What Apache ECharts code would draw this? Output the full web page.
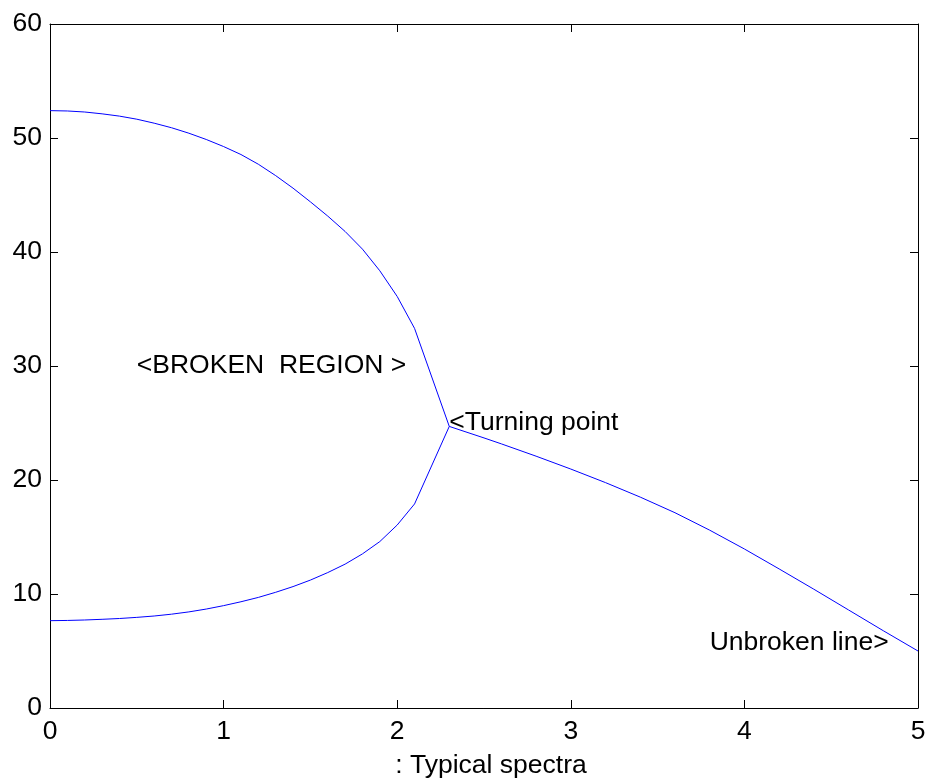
<!DOCTYPE html>
<html>
<head>
<meta charset="utf-8">
<script src="https://cdn.jsdelivr.net/npm/echarts@6/dist/echarts.min.js"></script>
<style>html,body{margin:0;padding:0;background:#fff;}#c{width:931px;height:784px;}</style>
</head>
<body>
<div id="c"></div>
<script>
var upperX = [0, 0.1, 0.2, 0.3, 0.4, 0.5, 0.6, 0.7, 0.8, 0.9, 1.0, 1.1, 1.2, 1.3, 1.4, 1.5, 1.6, 1.7, 1.8, 1.9, 2.0, 2.1, 2.3];
var upperY = [52.4, 52.37, 52.28, 52.12, 51.92, 51.65, 51.3, 50.9, 50.42, 49.87, 49.25, 48.55, 47.7, 46.7, 45.6, 44.4, 43.15, 41.8, 40.25, 38.35, 36.1, 33.3, 24.7];
var lowerX = [0, 0.1, 0.2, 0.3, 0.4, 0.5, 0.6, 0.7, 0.8, 0.9, 1.0, 1.1, 1.2, 1.3, 1.4, 1.5, 1.6, 1.7, 1.8, 1.9, 2.0, 2.1, 2.3];
var lowerY = [7.66, 7.68, 7.72, 7.78, 7.85, 7.95, 8.07, 8.23, 8.43, 8.68, 8.98, 9.32, 9.7, 10.15, 10.65, 11.22, 11.88, 12.62, 13.52, 14.6, 16.05, 17.9, 24.7];
var rightX = [2.3, 2.5, 2.6, 2.8, 3.0, 3.2, 3.4, 3.6, 3.8, 4.0, 4.2, 4.4, 4.6, 4.8, 5.0];
var rightY = [24.7, 23.69, 23.17, 22.09, 20.96, 19.77, 18.5, 17.13, 15.6, 13.95, 12.2, 10.42, 8.6, 6.78, 5.0];
var noteX = [0.5, 2.3, 3.8];
var noteY = [30, 25.0, 5.7];
var noteText = ['<BROKEN  REGION >', '<Turning point', 'Unbroken line>'];
var xTicks = [0, 1, 2, 3, 4, 5];
var yTicks = [0, 10, 20, 30, 40, 50, 60];
var xLabel = ': Typical spectra';

function pairs(xs, ys) { return xs.map(function (x, i) { return [x, ys[i]]; }); }
var FONT = 'Liberation Sans, Arial, Helvetica, sans-serif';
var FS = 26.5;
var lineStyleAxis = { color: '#000', width: 1 };

var chart = echarts.init(document.getElementById('c'), null, { renderer: 'canvas' });
var baseAxis = function (extra) {
  return Object.assign({
    type: 'value',
    axisLine: { show: true, onZero: false, lineStyle: lineStyleAxis },
    axisTick: { show: true, inside: true, length: 8, lineStyle: lineStyleAxis },
    splitLine: { show: false },
    axisLabel: { show: false }
  }, extra);
};
chart.setOption({
  animation: false,
  grid: { left: 50, right: 13, top: 24, bottom: 76, containLabel: false },
  xAxis: [
    baseAxis({
      min: xTicks[0], max: xTicks[xTicks.length - 1], interval: 1, position: 'bottom',
      axisLabel: { show: true, color: '#000', fontFamily: FONT, fontSize: FS, margin: 10 },
      name: xLabel, nameLocation: 'middle', nameGap: 44,
      nameTextStyle: { color: '#000', fontFamily: FONT, fontSize: FS, padding: [0, 0, 0, 14] }
    }),
    baseAxis({ min: xTicks[0], max: xTicks[xTicks.length - 1], interval: 1, position: 'top' })
  ],
  yAxis: [
    baseAxis({
      min: yTicks[0], max: yTicks[yTicks.length - 1], interval: 10, position: 'left',
      axisLabel: { show: true, color: '#000', fontFamily: FONT, fontSize: FS, margin: 8 }
    }),
    baseAxis({ min: yTicks[0], max: yTicks[yTicks.length - 1], interval: 10, position: 'right' })
  ],
  series: [
    { type: 'line', data: pairs(upperX, upperY), showSymbol: false, lineStyle: { color: '#0000ff', width: 1 }, silent: true },
    { type: 'line', data: pairs(lowerX, lowerY), showSymbol: false, lineStyle: { color: '#0000ff', width: 1 }, silent: true },
    { type: 'line', data: pairs(rightX, rightY), showSymbol: false, lineStyle: { color: '#0000ff', width: 1 }, silent: true },
    {
      type: 'scatter', symbolSize: 0, silent: true,
      itemStyle: { opacity: 1 },
      data: noteX.map(function (x, i) { return { value: [x, noteY[i]], name: noteText[i] }; }),
      label: {
        show: true, position: 'right', distance: 0, align: 'left', verticalAlign: 'middle',
        formatter: function (p) { return p.name; },
        color: '#000000', opacity: 1, fontFamily: FONT, fontSize: FS
      }
    }
  ]
});
</script>
</body>
</html>
